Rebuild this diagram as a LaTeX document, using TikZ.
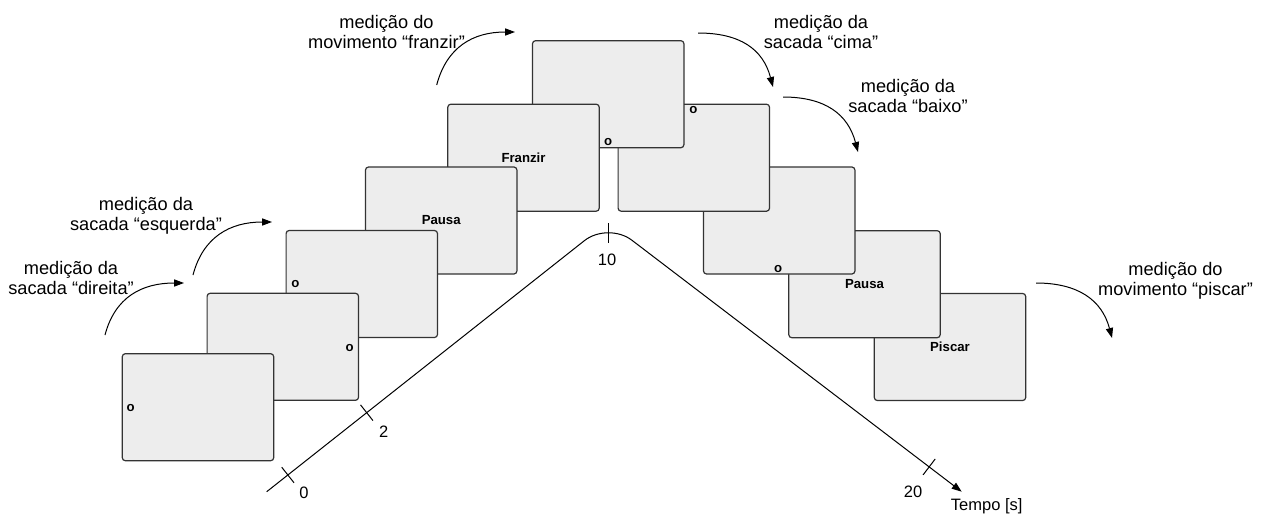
\documentclass[tikz,border=0pt]{standalone}
\usepackage{fontspec}
\setmainfont{Liberation Sans}
\usetikzlibrary{arrows.meta,calc}

\begin{document}
\begin{tikzpicture}[x=0.5pt,y=-0.5pt,
  slide/.style={draw=black!80, fill=black!7, line width=0.6pt, rounded corners=1.5pt,
    minimum width=75.7pt, minimum height=53.5pt, inner sep=0pt,
    font=\fontsize{6.6}{8}\selectfont\bfseries},
  cue/.style={font=\fontsize{6.6}{8}\selectfont\bfseries, inner sep=0pt},
  note/.style={font=\fontsize{9.1}{10}\selectfont, align=center, inner sep=0pt},
  ticklabel/.style={font=\fontsize{8.25}{9}\selectfont, inner sep=0pt},
  flow/.style={line width=0.5pt, -{Triangle[length=5pt,width=3.6pt]}},
  tickmark/.style={line width=0.5pt}]

\useasboundingbox (0,0) rectangle (1264,520);

% time axis: up to the turning point at 10 s, then down to 20 s
\coordinate (a0) at (266.7,491.7);
\coordinate (apex) at (608,222);
\coordinate (a1) at (961.7,491.7);
\draw[flow, rounded corners=15pt] (a0) -- (apex) -- (a1);

\coordinate (t0) at ($(a0)!0.062!(apex)$);
\coordinate (t2) at ($(a0)!0.293!(apex)$);
\coordinate (t10) at (608,233);
\coordinate (t20) at ($(apex)!0.908!(a1)$);
\draw[tickmark] ($(t0)!5pt!90:(apex)$) -- ($(t0)!5pt!-90:(apex)$);
\draw[tickmark] ($(t2)!5pt!90:(apex)$) -- ($(t2)!5pt!-90:(apex)$);
\draw[tickmark] ($(t10)+(0,-10)$) -- ($(t10)+(0,10)$);
\draw[tickmark] ($(t20)!5pt!90:(a1)$) -- ($(t20)!5pt!-90:(a1)$);

\node[ticklabel] (l0) at ($(t0)+(16,18)$) {0};
\node[ticklabel] (l2) at ($(t2)+(17,19)$) {2};
\node[ticklabel] (l10) at ($(t10)+(-1,27)$) {10};
\node[ticklabel] (l20) at ($(t20)+(-16,25)$) {20};
\node[ticklabel] (ltempo) at ($(a1)+(25,15)$) {Tempo [s]};

% stimulus screens, drawn from back to front
\node[slide] (f10) at (950,347) {Piscar};
\node[slide] (f9) at (864.5,284.2) {Pausa};
\node[slide] (f8) at (779.2,220.5) {};
\node[cue] (o8) at ($(f8.south)+(-1,-6)$) {o};
\node[slide] (f7) at (693.8,157.7) {};
\node[cue] (o7) at ($(f7.north)+(-0.5,6)$) {o};
\node[slide] (f6) at (608.2,94.2) {};
\node[cue] (o6) at ($(f6.south)+(0,-6)$) {o};
\node[slide] (f5) at (523.5,157.7) {Franzir};
\node[slide] (f4) at (441.2,220.5) {Pausa};
\node[slide] (f3) at (361.8,284) {};
\node[cue] (o3) at ($(f3.west)+(10,0)$) {o};
\node[slide] (f2) at (282.8,346.8) {};
\node[cue] (o2) at ($(f2.east)+(-9.5,1)$) {o};
\node[slide] (f1) at (198,407.2) {};
\node[cue] (o1) at ($(f1.west)+(9,1)$) {o};

% measurement annotations
\node[note] (n1) at (71,278) {medição da\\sacada “direita”};
\node[note] (n2) at (146,216) {medição da\\sacada “esquerda”};
\node[note] (n3) at (386.5,31.7) {medição do\\movimento “franzir”};
\node[note] (n4) at (821,31.7) {medição da\\sacada “cima”};
\node[note] (n5) at (908,96) {medição da\\sacada “baixo”};
\node[note] (n6) at (1175.5,281) {medição do\\movimento “piscar”};

% curved arrows on the rising side
\coordinate (s1) at (105,335);   \coordinate (e1) at (184,283);
\coordinate (s2) at (193,275);   \coordinate (e2) at (272,222);
\coordinate (s3) at (436.7,85);  \coordinate (e3) at (515,32);
\foreach \k in {1,2,3}
  \draw[flow] (s\k) .. controls ($(s\k)+(10,-38)$) and ($(e\k)+(-42,0)$) .. (e\k);

% curved arrows on the falling side
\coordinate (s4) at (698,33);    \coordinate (e4) at (773,87);
\coordinate (s5) at (783,97);    \coordinate (e5) at (858,152);
\coordinate (s6) at (1036,283);  \coordinate (e6) at (1112,338);
\foreach \k in {4,5,6}
  \draw[flow] (s\k) .. controls ($(s\k)+(42,0)$) and ($(e\k)+(-10,-38)$) .. (e\k);

\end{tikzpicture}
\end{document}
